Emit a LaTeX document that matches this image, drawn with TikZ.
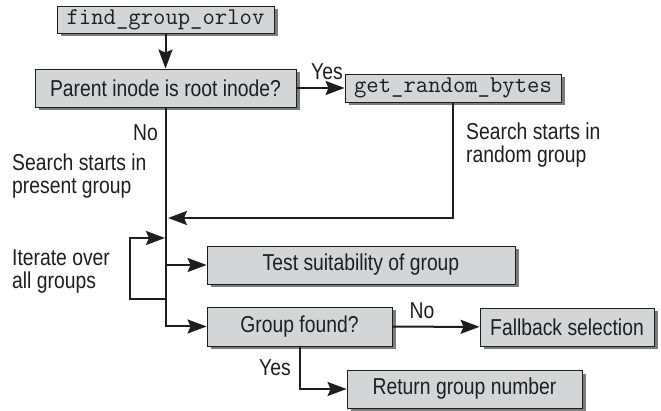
\documentclass[tikz,border=0pt]{standalone}
\usepackage{fontspec}
\setmainfont{Liberation Sans}[FakeStretch=0.84]
\usetikzlibrary{arrows.meta,shadows}
\definecolor{boxfill}{RGB}{212,213,214}
\definecolor{shadowgray}{RGB}{125,125,125}
\definecolor{ink}{RGB}{30,30,30}
\tikzset{
  box/.style={draw=ink, line width=0.9pt, fill=boxfill, inner sep=0pt,
    font=\fontsize{23}{25}\selectfont, text=ink,
    drop shadow={fill=shadowgray, opacity=1, shadow xshift=3.5pt, shadow yshift=-3.5pt}},
  codebox/.style={box, font=\ttfamily\fontsize{24}{26}\selectfont},
  lbl/.style={inner sep=0pt, font=\fontsize{23}{23}\selectfont, text=ink, align=left},
  conn/.style={draw=ink, line width=2pt},
  arr/.style={conn, -{Stealth[length=19pt,width=14pt,inset=3pt]}}
}
\begin{document}
\begin{tikzpicture}[x=1pt,y=-1pt]
\useasboundingbox (0,0) rectangle (661,411);
% boxes
\node[codebox, minimum width=217pt, minimum height=27pt] (find) at (165.5,19.5) {find\_group\_orlov};
\node[box, minimum width=261pt, minimum height=38pt] (parent) at (165.5,88) {Parent inode is root inode?};
\node[codebox, minimum width=216pt, minimum height=28pt] (grb) at (453,88) {get\_random\_bytes};
\node[box, minimum width=308pt, minimum height=38pt] (test) at (361,265) {Test suitability of group};
\node[box, minimum width=185pt, minimum height=39pt] (gf) at (299.5,326.5) {Group found?};
\node[box, minimum width=174pt, minimum height=38pt] (fb) at (567,327) {Fallback selection};
\node[box, minimum width=235pt, minimum height=38pt] (ret) at (464.5,389) {Return group number};
% labels
\node[lbl] (yes1) at (327,72) {Yes};
\node[lbl, anchor=north west] (nolbl) at (133,124) {No};
\node[lbl, anchor=north west] (srand) at (466,123) {Search starts in\\random group};
\node[lbl, anchor=north west] (spres) at (12,154) {Search starts in\\present group};
\node[lbl, anchor=north west] (iter) at (12,249) {Iterate over\\all groups};
\node[lbl] (no2) at (422,311) {No};
\node[lbl] (yes2) at (275,368) {Yes};
% coordinates
\coordinate (j1) at (168,218);
\coordinate (jt) at (165.5,265);
\coordinate (lb) at (165.5,299);
\coordinate (lt) at (130,238);
\coordinate (le) at (165,238);
% connectors
\draw[arr] (find) -- (parent);
\draw[arr] (parent) -- (grb);
\draw[arr] (grb.south) |- (j1);
\draw[arr] (parent.south) |- (gf.west);
\draw[arr] (jt) -- (test.west);
\draw[arr] (lb) -| (lt) -- (le);
\draw[arr] (gf) -- (fb);
\draw[arr] (gf.south) |- (ret.west);
\end{tikzpicture}
\end{document}
